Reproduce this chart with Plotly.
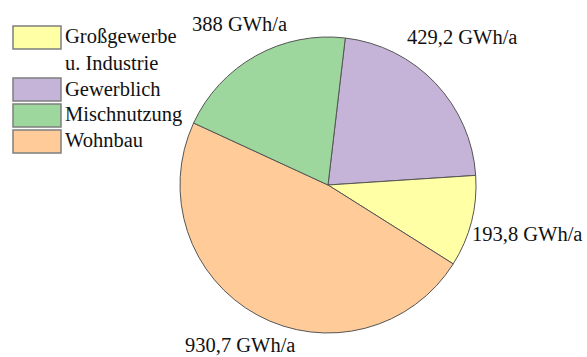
import math
import plotly.graph_objects as go

# ---- data ----
categories = ["Großgewerbe<br>u. Industrie", "Gewerblich", "Mischnutzung", "Wohnbau"]
values = [193.8, 429.2, 388.0, 930.7]
unit = "GWh/a"
colors = ["#FFFFA6", "#C5B4D8", "#9DD79D", "#FFCC99"]
slice_order = [1, 0, 3, 2]  # clockwise drawing order of the slices

value_labels = [f"{v:g}".replace(".", ",") + " " + unit for v in values]

# ---- layout / style constants ----
W, H = 587, 357
CX, CY, R = 328, 185, 148
ROT = 6.7
FONT = dict(family="Liberation Serif", size=20.5, color="#111111")
label_nudge = {0: (-2, -2), 1: (-9, -12), 2: (0, -3), 3: (0, -3)}  # pixel nudges per category

fig = go.Figure()
fig.add_trace(go.Pie(
    labels=[categories[i] for i in slice_order],
    values=[values[i] for i in slice_order],
    marker=dict(colors=[colors[i] for i in slice_order], line=dict(color="#555555", width=1)),
    sort=False, direction="clockwise", rotation=ROT,
    textinfo="none", showlegend=False,
    domain=dict(x=[(CX - R) / W, (CX + R) / W], y=[(H - CY - R) / H, (H - CY + R) / H]),
))

def px2paper(x, y):
    return x / W, 1 - y / H

annotations = []
shapes = []

# value labels outside each slice at its mid angle
total = sum(values)
start = ROT
for i in slice_order:
    span = 360 * values[i] / total
    a = math.radians(start + span / 2)
    start += span
    txt = value_labels[i]
    hw, hh = 5.2 * len(txt), 9
    d = R + 2 + hw * abs(math.sin(a)) + hh * abs(math.cos(a))
    nx, ny = label_nudge[i]
    x, y = px2paper(CX + d * math.sin(a) + nx, CY - d * math.cos(a) + ny)
    annotations.append(dict(x=x, y=y, xref="paper", yref="paper", text=txt, showarrow=False,
                            xanchor="center", yanchor="middle", font=FONT))

# custom legend (box + text)
box_tops = [26, 78, 104, 130]
BOX_H = 23
for k, lab in enumerate(categories):
    y0, y1 = box_tops[k], box_tops[k] + BOX_H
    a0x, a0y = px2paper(13, y1)
    a1x, a1y = px2paper(61, y0)
    shapes.append(dict(type="rect", xref="paper", yref="paper", x0=a0x, y0=a0y, x1=a1x, y1=a1y,
                       fillcolor=colors[k], line=dict(color="#7F7F7F", width=1.5)))
    nlines = lab.count("<br>") + 1
    cy = (y0 + y1) / 2 + (nlines - 1) * 26 / 2 - 1
    tx, ty = px2paper(63, cy)
    annotations.append(dict(x=tx, y=ty, xref="paper", yref="paper", text=lab, showarrow=False,
                            xanchor="left", yanchor="middle", align="left", font=FONT))

fig.update_layout(
    width=W, height=H, margin=dict(l=0, r=0, t=0, b=0),
    paper_bgcolor="white", plot_bgcolor="white",
    annotations=annotations, shapes=shapes, showlegend=False,
)

fig.write_html("out.html")
